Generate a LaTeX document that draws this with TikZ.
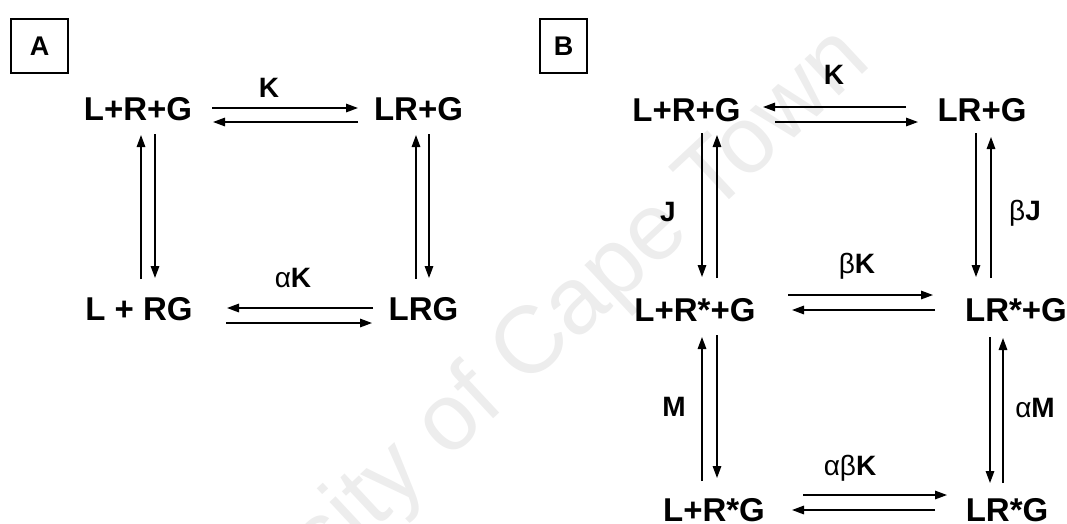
\documentclass[tikz,border=0pt]{standalone}
\usepackage{fontspec}
\setmainfont{Liberation Sans}
\usetikzlibrary{arrows.meta}
\begin{document}
\begin{tikzpicture}[x=1pt,y=-1pt,
  species/.style={font=\fontsize{33}{40}\selectfont\bfseries, inner sep=0pt, anchor=base},
  rate/.style={font=\fontsize{28}{34}\selectfont, inner sep=0pt},
  rx/.style={line width=1.5pt, -{Triangle[length=12pt,width=8.5pt]}},
  panel/.style={draw, line width=1.2pt, inner sep=0pt, minimum height=54pt, font=\fontsize{27}{32}\selectfont\bfseries},
  wmark/.style={rotate=43, text=black!7, font=\fontsize{95}{100}\selectfont, inner sep=0pt}
]
\useasboundingbox (0,0) rectangle (1067,523);
% watermark
\node[wmark] (wm) at (482,396) {University of Cape Town};

% ---------- panel A ----------
\node[panel, minimum width=57pt] (pa) at (39.5,46) {A};
\node[species] (a1) at (138,120) {L+R+G};
\node[species] (a2) at (418.5,120) {LR+G};
\node[species] (a3) at (139,320) {L + RG};
\node[species] (a4) at (423.5,320) {LRG};

\coordinate (ah1s) at (212,108); \coordinate (ah1e) at (358,108);
\coordinate (ah2s) at (358,122); \coordinate (ah2e) at (213,122);
\coordinate (ah3s) at (373,308); \coordinate (ah3e) at (227,308);
\coordinate (ah4s) at (226,323); \coordinate (ah4e) at (372,323);
\draw[rx] (ah1s) -- (ah1e);
\draw[rx] (ah2s) -- (ah2e);
\draw[rx] (ah3s) -- (ah3e);
\draw[rx] (ah4s) -- (ah4e);

\coordinate (av1s) at (141,279); \coordinate (av1e) at (141,135);
\coordinate (av2s) at (155,134); \coordinate (av2e) at (155,278);
\coordinate (av3s) at (416,279); \coordinate (av3e) at (416,135);
\coordinate (av4s) at (429,134); \coordinate (av4e) at (429,278);
\draw[rx] (av1s) -- (av1e);
\draw[rx] (av2s) -- (av2e);
\draw[rx] (av3s) -- (av3e);
\draw[rx] (av4s) -- (av4e);

\node[rate] (ka) at (269,88) {\textbf{K}};
\node[rate] (aka) at (293,278) {α\textbf{K}};

% ---------- panel B ----------
\node[panel, minimum width=47pt] (pb) at (563.5,46) {B};
\node[species] (b1) at (686.5,121) {L+R+G};
\node[species] (b2) at (982,121) {LR+G};
\node[species] (b3) at (695,321) {L+R*+G};
\node[species] (b4) at (1016,321) {LR*+G};
\node[species] (b5) at (714,521) {L+R*G};
\node[species] (b6) at (1007,521) {LR*G};

\coordinate (bh1s) at (906,107); \coordinate (bh1e) at (763,107);
\coordinate (bh2s) at (775,122); \coordinate (bh2e) at (918,122);
\coordinate (bh3s) at (788,295); \coordinate (bh3e) at (933,295);
\coordinate (bh4s) at (935,310); \coordinate (bh4e) at (792,310);
\coordinate (bh5s) at (803,495); \coordinate (bh5e) at (947,495);
\coordinate (bh6s) at (935,510); \coordinate (bh6e) at (792,510);
\draw[rx] (bh1s) -- (bh1e);
\draw[rx] (bh2s) -- (bh2e);
\draw[rx] (bh3s) -- (bh3e);
\draw[rx] (bh4s) -- (bh4e);
\draw[rx] (bh5s) -- (bh5e);
\draw[rx] (bh6s) -- (bh6e);

\coordinate (bv1s) at (702,133); \coordinate (bv1e) at (702,277);
\coordinate (bv2s) at (717,278); \coordinate (bv2e) at (717,135);
\coordinate (bv3s) at (702,481); \coordinate (bv3e) at (702,337);
\coordinate (bv4s) at (717,335); \coordinate (bv4e) at (717,478);
\coordinate (bv5s) at (976,133); \coordinate (bv5e) at (976,277);
\coordinate (bv6s) at (991,278); \coordinate (bv6e) at (991,137);
\coordinate (bv7s) at (990,337); \coordinate (bv7e) at (990,483);
\coordinate (bv8s) at (1003,483); \coordinate (bv8e) at (1003,338);
\draw[rx] (bv1s) -- (bv1e);
\draw[rx] (bv2s) -- (bv2e);
\draw[rx] (bv3s) -- (bv3e);
\draw[rx] (bv4s) -- (bv4e);
\draw[rx] (bv5s) -- (bv5e);
\draw[rx] (bv6s) -- (bv6e);
\draw[rx] (bv7s) -- (bv7e);
\draw[rx] (bv8s) -- (bv8e);

\node[rate] (kb) at (834,75) {\textbf{K}};
\node[rate] (bkb) at (857,266) {β\textbf{K}};
\node[rate] (abk) at (850,468) {αβ\textbf{K}};
\node[rate] (jb) at (668,212) {\textbf{J}};
\node[rate] (bjb) at (1025,213) {β\textbf{J}};
\node[rate] (mb) at (674,407) {\textbf{M}};
\node[rate] (amb) at (1035,408) {α\textbf{M}};
\end{tikzpicture}
\end{document}
